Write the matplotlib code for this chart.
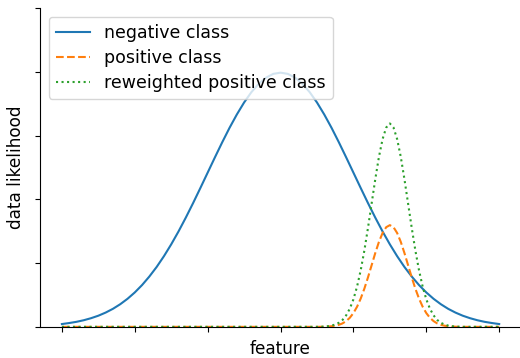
#!/usr/bin/env python3
"""
Class likelihoods along one feature: negative vs (reweighted) positive class
"""
import matplotlib
matplotlib.use('Agg')
import matplotlib.pyplot as plt

# Negative class (broad bump centred on 0)
neg_x = [round(-3.0 + 0.1 * i, 1) for i in range(61)]
neg_y = [0.0044, 0.0060, 0.0079, 0.0104, 0.0136, 0.0175, 0.0224, 0.0283, 0.0355, 0.0440,
         0.0540, 0.0656, 0.0790, 0.0940, 0.1109, 0.1295, 0.1497, 0.1714, 0.1942, 0.2179,
         0.2420, 0.2661, 0.2897, 0.3123, 0.3332, 0.3521, 0.3683, 0.3814, 0.3910, 0.3970,
         0.3989,
         0.3970, 0.3910, 0.3814, 0.3683, 0.3521, 0.3332, 0.3123, 0.2897, 0.2661, 0.2420,
         0.2179, 0.1942, 0.1714, 0.1497, 0.1295, 0.1109, 0.0940, 0.0790, 0.0656, 0.0540,
         0.0440, 0.0355, 0.0283, 0.0224, 0.0175, 0.0136, 0.0104, 0.0079, 0.0060, 0.0044]

# Positive class, narrow bump near 1.5 (flat at zero elsewhere)
pos_x = [-3.0] + [round(0.5 + 0.05 * i, 2) for i in range(41)] + [3.0]
pos_y = [0.0,
         0.0, 0.0001, 0.0002, 0.0005, 0.0010, 0.0018, 0.0032, 0.0054, 0.0090, 0.0142,
         0.0216, 0.0316, 0.0444, 0.0599, 0.0777, 0.0968, 0.1159, 0.1333, 0.1473, 0.1564,
         0.1596,
         0.1564, 0.1473, 0.1333, 0.1159, 0.0968, 0.0777, 0.0599, 0.0444, 0.0316, 0.0216,
         0.0142, 0.0090, 0.0054, 0.0032, 0.0018, 0.0010, 0.0005, 0.0002, 0.0001, 0.0,
         0.0]

# Reweighted positive class (same shape, twice as tall)
rew_y = [0.0,
         0.0, 0.0002, 0.0004, 0.0010, 0.0020, 0.0036, 0.0064, 0.0108, 0.0180, 0.0284,
         0.0432, 0.0632, 0.0888, 0.1198, 0.1554, 0.1936, 0.2318, 0.2666, 0.2946, 0.3128,
         0.3192,
         0.3128, 0.2946, 0.2666, 0.2318, 0.1936, 0.1554, 0.1198, 0.0888, 0.0632, 0.0432,
         0.0284, 0.0180, 0.0108, 0.0064, 0.0036, 0.0020, 0.0010, 0.0004, 0.0002, 0.0,
         0.0]

fig = plt.figure(figsize=(5.2, 3.58), dpi=100)
ax = fig.add_axes([0.077, 0.087, 0.925, 0.89])

ax.plot(neg_x, neg_y, '-', color='C0', lw=1.5, label='negative class')
ax.plot(pos_x, pos_y, '--', color='C1', lw=1.5, label='positive class')
ax.plot(pos_x, rew_y, ':', color='C2', lw=1.5, label='reweighted positive class')

ax.set_xlim(-3.3, 3.3)
ax.set_ylim(0, 0.5)
ax.set_xticks([-3, -2, -1, 0, 1, 2, 3])
ax.set_yticks([0, 0.1, 0.2, 0.3, 0.4, 0.5])
ax.set_xticklabels([])
ax.set_yticklabels([])
ax.spines['top'].set_visible(False)
ax.spines['right'].set_visible(False)

ax.set_xlabel('feature', fontsize=12.2, labelpad=2.5)
ax.set_ylabel('data likelihood', fontsize=12.2)
ax.legend(loc='upper left', fontsize=12.5, labelspacing=0.4)

plt.savefig('out.png', dpi=100)
